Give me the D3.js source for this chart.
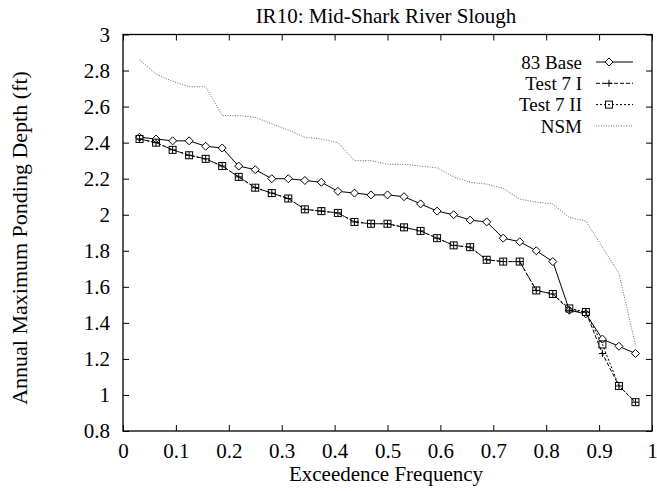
<!DOCTYPE html>
<html>
<head>
<meta charset="utf-8">
<script src="https://cdn.jsdelivr.net/npm/d3@7"></script>
<style>
  html, body { margin: 0; padding: 0; background: #fff; }
  svg { display: block; }
  text { font-family: "Liberation Serif", "Times New Roman", serif; fill: #000; }
</style>
</head>
<body>
<svg id="chart" width="657" height="491"></svg>
<script>
// ---- data ----
const title = "IR10: Mid-Shark River Slough";
const xLabel = "Exceedence Frequency";
const yLabel = "Annual Maximum Ponding Depth (ft)";
const seriesNames = ["83 Base", "Test 7 I", "Test 7 II", "NSM"];
// exceedence frequencies: rank / 32
const freq = [0.03125,0.0625,0.09375,0.125,0.15625,0.1875,0.21875,0.25,0.28125,0.3125,
  0.34375,0.375,0.40625,0.4375,0.46875,0.5,0.53125,0.5625,0.59375,0.625,
  0.65625,0.6875,0.71875,0.75,0.78125,0.8125,0.84375,0.875,0.90625,0.9375,0.96875];
const base83 = [2.43,2.42,2.41,2.41,2.38,2.37,2.27,2.25,2.20,2.20,
  2.19,2.18,2.13,2.12,2.11,2.11,2.10,2.06,2.02,2.00,
  1.97,1.96,1.87,1.85,1.80,1.74,1.47,1.45,1.31,1.27,1.23];
const test7I = [2.42,2.40,2.36,2.33,2.31,2.27,2.21,2.15,2.12,2.09,
  2.03,2.02,2.01,1.96,1.95,1.95,1.93,1.91,1.87,1.83,
  1.82,1.75,1.74,1.74,1.58,1.56,1.47,1.46,1.23,1.05,0.96];
const test7II = [2.42,2.40,2.36,2.33,2.31,2.27,2.21,2.15,2.12,2.09,
  2.03,2.02,2.01,1.96,1.95,1.95,1.93,1.91,1.87,1.83,
  1.82,1.75,1.74,1.74,1.58,1.56,1.48,1.46,1.28,1.05,0.96];
const nsm = [2.86,2.78,2.74,2.71,2.71,2.55,2.55,2.54,2.505,2.47,
  2.43,2.42,2.40,2.30,2.30,2.28,2.28,2.27,2.26,2.21,
  2.18,2.17,2.146,2.087,2.07,2.06,1.985,1.965,1.82,1.675,1.277];
const xTicks = [0,0.1,0.2,0.3,0.4,0.5,0.6,0.7,0.8,0.9,1];
const yTicks = [0.8,1,1.2,1.4,1.6,1.8,2,2.2,2.4,2.6,2.8,3];

// ---- layout ----
const svg = d3.select("#chart");
const L = 123, R = 652, T = 34.5, B = 431;
const FS = 21;
const x = d3.scaleLinear().domain([0,1]).range([L,R]);
const y = d3.scaleLinear().domain([0.8,3]).range([B,T]);
const tickLen = 6;

// axes (ticks inward, mirrored)
const fmt = d => String(+d.toFixed(1));
const gB = svg.append("g").attr("transform",`translate(0,${B})`)
  .call(d3.axisBottom(x).tickValues(xTicks).tickFormat(fmt).tickSizeInner(-tickLen).tickSizeOuter(0).tickPadding(0));
const gT = svg.append("g").attr("transform",`translate(0,${T})`)
  .call(d3.axisTop(x).tickValues(xTicks).tickFormat("").tickSizeInner(-tickLen).tickSizeOuter(0));
const gL = svg.append("g").attr("transform",`translate(${L},0)`)
  .call(d3.axisLeft(y).tickValues(yTicks).tickFormat(fmt).tickSizeInner(-tickLen).tickSizeOuter(0).tickPadding(13));
const gR = svg.append("g").attr("transform",`translate(${R},0)`)
  .call(d3.axisRight(y).tickValues(yTicks).tickFormat("").tickSizeInner(-tickLen).tickSizeOuter(0));
[gB,gT,gL,gR].forEach(g => {
  g.select(".domain").remove();
  g.selectAll(".tick line").attr("stroke","#000").attr("stroke-width",1);
  g.selectAll(".tick text").attr("font-family","Liberation Serif, serif").attr("font-size",FS).attr("fill","#000");
});
gB.selectAll(".tick text").attr("y", 457.5 - B).attr("dy", null);
svg.append("rect").attr("x",L).attr("y",T).attr("width",R-L).attr("height",B-T)
  .attr("fill","none").attr("stroke","#000").attr("stroke-width",1.3);

// title and labels
svg.append("text").attr("x",386).attr("y",22.5).attr("text-anchor","middle")
  .attr("font-size",FS).text(title);
svg.append("text").attr("x",386).attr("y",481).attr("text-anchor","middle")
  .attr("font-size",FS).text(xLabel);
svg.append("text").attr("transform",`translate(27,238) rotate(-90)`).attr("text-anchor","middle")
  .attr("font-size",22).text(yLabel);

// series
const styles = [
  {data: base83, dash: null, color: "#000", marker: "diamond"},
  {data: test7I, dash: "4,2", color: "#000", marker: "plus"},
  {data: test7II, dash: "2,2", color: "#000", marker: "square"},
  {data: nsm, dash: "1,1.5", color: "#666", marker: null}
];
const line = d3.line().x(d => x(d[0])).y(d => y(d[1]));

function drawMarker(g, type, cx, cy) {
  if (type === "diamond") {
    g.append("path").attr("d", `M${cx},${cy-4}L${cx+4},${cy}L${cx},${cy+4}L${cx-4},${cy}Z`)
      .attr("fill","#fff").attr("stroke","#000").attr("stroke-width",1);
  } else if (type === "plus") {
    g.append("path").attr("d", `M${cx-3.5},${cy}H${cx+3.5}M${cx},${cy-3.5}V${cy+3.5}`)
      .attr("fill","none").attr("stroke","#000").attr("stroke-width",1);
  } else if (type === "square") {
    g.append("rect").attr("x",cx-3.5).attr("y",cy-3.5).attr("width",7).attr("height",7)
      .attr("fill","none").attr("stroke","#000").attr("stroke-width",1);
  }
}

styles.forEach(s => {
  const pts = freq.map((f,i) => [f, s.data[i]]);
  svg.append("path").datum(pts).attr("d", line)
    .attr("fill","none").attr("stroke", s.color).attr("stroke-width",1)
    .attr("stroke-dasharray", s.dash);
  if (s.marker) {
    const g = svg.append("g");
    pts.forEach(p => drawMarker(g, s.marker, x(p[0]), y(p[1])));
  }
});

// legend
const legX = 582, legY0 = 62, legDy = 21.3, sx0 = 596, sx1 = 633;
styles.forEach((s,i) => {
  const ly = legY0 + i*legDy;
  svg.append("text").attr("x",legX).attr("y",ly).attr("dy","0.35em")
    .attr("text-anchor","end").attr("font-size",19).text(seriesNames[i]);
  svg.append("line").attr("x1",sx0).attr("x2",sx1).attr("y1",ly).attr("y2",ly)
    .attr("stroke",s.color).attr("stroke-width",1).attr("stroke-dasharray",s.dash);
  if (s.marker) drawMarker(svg, s.marker, 609, ly);
});
</script>
</body>
</html>
